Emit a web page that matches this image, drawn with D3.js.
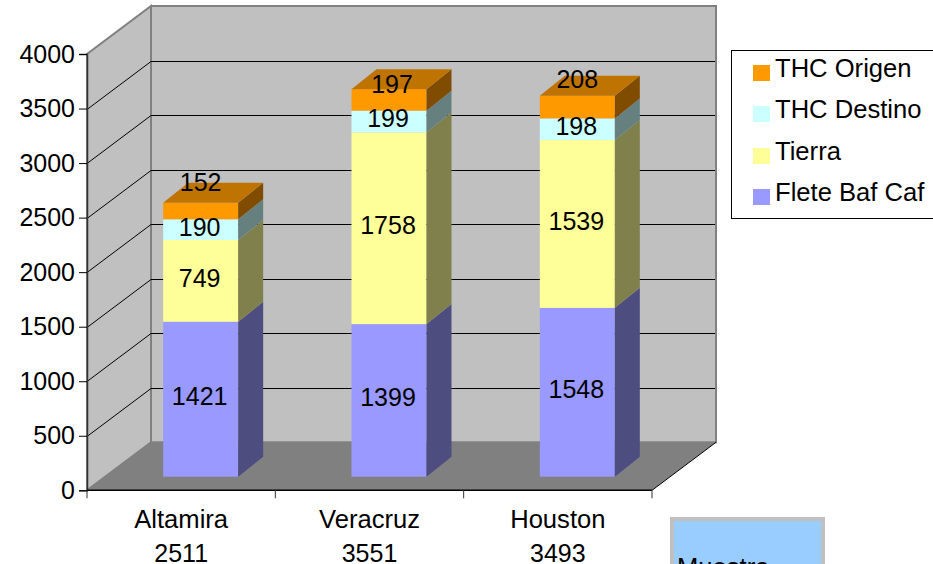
<!DOCTYPE html>
<html>
<head>
<meta charset="utf-8">
<script src="https://cdn.jsdelivr.net/npm/d3@7"></script>
<style>
  html, body { margin: 0; padding: 0; background: #fff; overflow: hidden; }
  svg { display: block; }
  text { font-family: "Liberation Sans", Arial, sans-serif; font-size: 25px; fill: #000; }
  text.word { font-size: 25.6px; }
</style>
</head>
<body>
<svg id="chart" width="933" height="564"></svg>
<script>
const ports = ["Altamira", "Veracruz", "Houston"];
const portTotals = [2511, 3551, 3493];
const seriesNames = ["Flete Baf Caf", "Tierra", "THC Destino", "THC Origen"];
const fleteBafCaf = [1421, 1399, 1548];
const tierra = [749, 1758, 1539];
const thcDestino = [190, 199, 198];
const thcOrigen = [152, 197, 208];
const seriesColors = ["#9999FF", "#FFFF99", "#CCFFFF", "#FF9900"];
const yTicks = [0, 500, 1000, 1500, 2000, 2500, 3000, 3500, 4000];
const topLabelLift = [21, 5, 17];
const topLabelShift = [0, 3, 0];

const svg = d3.select("#chart");

// Oblique projection of the chart box
const frontLeft = 87, frontRight = 652;
const wallDx = 64, wallDy = -48;
const barInsetDy = -13.6;
const barCenterShift = 19.5;
const barDepthDx = 25, barDepthDy = -20;
const barWidth = 75;

const y = d3.scaleLinear().domain([0, 4000]).range([490.3, 54]);
const x = d3.scaleBand().domain(ports).range([frontLeft, frontRight]);

const poly = pts => pts.map(p => p.join(",")).join(" ");
const y0 = y(0), y1 = y(4000);

// Walls and floor
svg.append("polygon")
  .attr("points", poly([[frontLeft, y0], [frontLeft + wallDx, y0 + wallDy], [frontLeft + wallDx, y1 + wallDy], [frontLeft, y1]]))
  .attr("fill", "#C0C0C0").attr("stroke", "#808080").attr("stroke-width", 2);
svg.append("rect")
  .attr("x", frontLeft + wallDx).attr("y", y1 + wallDy)
  .attr("width", frontRight - frontLeft).attr("height", y0 - y1)
  .attr("fill", "#C0C0C0").attr("stroke", "#808080").attr("stroke-width", 2);
svg.append("polygon")
  .attr("points", poly([[frontLeft, y0], [frontRight, y0], [frontRight + wallDx, y0 + wallDy], [frontLeft + wallDx, y0 + wallDy]]))
  .attr("fill", "#808080");

// Gridlines wrap around the left and back walls
const grid = svg.append("g").attr("fill", "none").attr("stroke", "#000").attr("stroke-width", 1);
yTicks.filter(t => t > 0 && t < 4000).forEach(t => {
  const py = Math.round(y(t)) + 0.5;
  grid.append("polyline").attr("points", poly([
    [frontLeft, py],
    [frontLeft + wallDx, py + wallDy],
    [frontRight + wallDx - 1, py + wallDy]
  ]));
});

// Right edge of the floor
svg.append("line")
  .attr("x1", frontRight).attr("y1", y0)
  .attr("x2", frontRight + wallDx).attr("y2", y0 + wallDy)
  .attr("stroke", "#000");

// Value axis
const yAxis = svg.append("g").attr("transform", `translate(${frontLeft},0)`)
  .call(d3.axisLeft(y).tickValues(yTicks).tickSize(8).tickPadding(4).tickFormat(d3.format("d")));
yAxis.select(".domain").attr("stroke", "#333").attr("stroke-width", 1.5);
yAxis.selectAll("line").attr("stroke", "#000");
yAxis.selectAll("text").style("font-size", "25px");

// Category axis: ticks sit on the band edges
const catTicks = svg.append("g");
catTicks.append("line").attr("x1", frontLeft).attr("x2", frontRight)
  .attr("y1", y0).attr("y2", y0).attr("stroke", "#000").attr("stroke-width", 1.5);
ports.concat([null]).forEach((p, i) => {
  const tx = frontLeft + i * x.bandwidth();
  catTicks.append("line").attr("x1", tx).attr("x2", tx)
    .attr("y1", y0).attr("y2", y0 + 8).attr("stroke", "#333");
});
ports.forEach((p, i) => {
  const cx = x(p) + x.bandwidth() / 2;
  const label = svg.append("text").attr("text-anchor", "middle");
  label.append("tspan").attr("class", "word").attr("x", cx).attr("y", 528)
    .style("font-size", "25.6px").text(p);
  label.append("tspan").attr("x", cx).attr("y", 562).text(portTotals[i]);
});

// Stacked bars, each segment with a front face and a shaded side
const rows = ports.map((p, i) => ({
  port: p,
  [seriesNames[0]]: fleteBafCaf[i],
  [seriesNames[1]]: tierra[i],
  [seriesNames[2]]: thcDestino[i],
  [seriesNames[3]]: thcOrigen[i]
}));
const stacked = d3.stack().keys(seriesNames)(rows);
const barY = v => y(v) + barInsetDy;
const barCenter = i => x(ports[i]) + x.bandwidth() / 2 + barCenterShift;
const shade = (c, k) => {
  const rgb = d3.rgb(c);
  return d3.rgb(rgb.r * k, rgb.g * k, rgb.b * k).formatHex();
};

stacked.forEach((layer, s) => {
  const color = seriesColors[s];
  const g = svg.append("g");
  layer.forEach((d, i) => {
    const bx = barCenter(i) - barWidth / 2;
    const right = bx + barWidth;
    const top = barY(d[1]), bottom = barY(d[0]);
    g.append("rect").attr("x", bx).attr("y", top)
      .attr("width", barWidth).attr("height", bottom - top).attr("fill", color);
    g.append("polygon")
      .attr("points", poly([[right, top], [right + barDepthDx, top + barDepthDy], [right + barDepthDx, bottom + barDepthDy], [right, bottom]]))
      .attr("fill", shade(color, 0.5));
    if (s === stacked.length - 1) {
      g.append("polygon")
        .attr("points", poly([[bx, top], [right, top], [right + barDepthDx, top + barDepthDy], [bx + barDepthDx, top + barDepthDy]]))
        .attr("fill", shade(color, 0.75));
    }
  });
});

// Segment value labels
stacked.forEach((layer, s) => {
  layer.forEach((d, i) => {
    const isTop = s === stacked.length - 1;
    const cx = barCenter(i) + (isTop ? topLabelShift[i] : -1);
    const ly = isTop ? barY(d[1]) - topLabelLift[i] : (barY(d[0]) + barY(d[1])) / 2 - 3;
    svg.append("text").attr("x", cx).attr("y", ly)
      .attr("text-anchor", "middle").attr("dominant-baseline", "central")
      .text(d[1] - d[0]);
  });
});

// Legend, running past the right edge of the page
const legend = svg.append("g");
legend.append("rect").attr("x", 731.5).attr("y", 50.5).attr("width", 230).attr("height", 168)
  .attr("fill", "#fff").attr("stroke", "#000");
seriesNames.slice().reverse().forEach((name, i) => {
  const color = seriesColors[seriesColors.length - 1 - i];
  const rowY = Math.round(65 + i * 41.3);
  legend.append("rect").attr("x", 753).attr("y", rowY).attr("width", 17).attr("height", 16).attr("fill", color);
  legend.append("text").attr("class", "word").attr("x", 775).attr("y", rowY + 12).text(name);
});

// Note box, cut off by the bottom of the page
svg.append("rect").attr("x", 672).attr("y", 519).attr("width", 151).attr("height", 80)
  .attr("fill", "#99CCFF").attr("stroke", "#C0C0C0").attr("stroke-width", 4);
svg.append("text").attr("class", "word").attr("x", 677).attr("y", 576).text("Muestra");
</script>
</body>
</html>
